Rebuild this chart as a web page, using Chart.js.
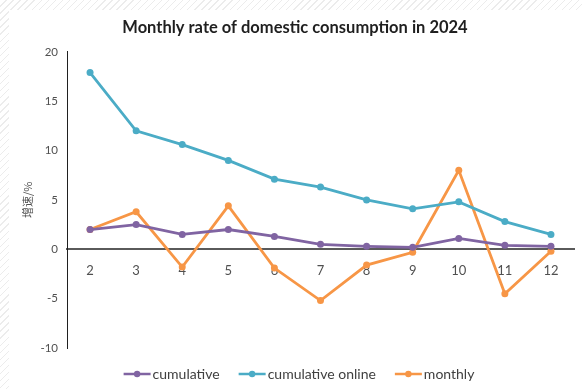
<!DOCTYPE html>
<html>
<head>
<meta charset="utf-8">
<script src="https://cdn.jsdelivr.net/npm/chart.js@4"></script>
<style>
  html, body { margin: 0; padding: 0; }
  #wrap {
    position: relative; width: 582px; height: 389px; overflow: hidden;
    background: repeating-linear-gradient(135deg, #ffffff 0px, #ffffff 4px, #ececec 4px, #ececec 5px);
  }
  #panel { position: absolute; left: 9px; top: 10px; right: 0; bottom: 0; background: #ffffff; }
  #c { position: absolute; left: 0; top: 0; }
</style>
</head>
<body>
<div id="wrap">
  <div id="panel"></div>
  <canvas id="c" width="582" height="389"></canvas>
</div>
<script>
// Months of 2024 (Feb–Dec)
const months = ['2', '3', '4', '5', '6', '7', '8', '9', '10', '11', '12'];

// Growth rates, %
const cumulative       = [2.0, 2.5, 1.5, 2.0, 1.3, 0.5, 0.3, 0.2, 1.1, 0.4, 0.3];
const cumulativeOnline = [17.9, 12.0, 10.6, 9.0, 7.1, 6.3, 5.0, 4.1, 4.8, 2.8, 1.5];
const monthly          = [2.0, 3.8, -1.8, 4.4, -1.9, -5.2, -1.6, -0.3, 8.0, -4.5, -0.2];

const seriesNames  = ['cumulative', 'cumulative online', 'monthly'];
const seriesColors = ['#8064A2', '#4BACC6', '#F79646'];

const FONT = 'Lato, "Open Sans", "Liberation Sans", sans-serif';

// Bottom legend: each entry is a short line with a dot, followed by the series name
const bottomLegend = {
  id: 'bottomLegend',
  afterDraw(chart) {
    const ctx = chart.ctx;
    const markerW = 27, textGap = 2, itemGap = 19, cy = 374;
    ctx.save();
    ctx.font = '14px ' + FONT;
    const items = chart.data.datasets.map(ds => ({
      ds, w: markerW + textGap + ctx.measureText(ds.label).width
    }));
    const total = items.reduce((s, it) => s + it.w, 0) + itemGap * (items.length - 1);
    let x = 299 - total / 2;
    items.forEach(({ ds }, i) => {
      ctx.strokeStyle = ds.borderColor;
      ctx.lineWidth = 2.5;
      ctx.beginPath(); ctx.moveTo(x, cy); ctx.lineTo(x + markerW, cy); ctx.stroke();
      ctx.fillStyle = ds.borderColor;
      ctx.beginPath(); ctx.arc(x + markerW / 2, cy, 3.2, 0, Math.PI * 2); ctx.fill();
      ctx.fillStyle = '#404040';
      ctx.textBaseline = 'middle';
      ctx.textAlign = 'left';
      ctx.fillText(ds.label, x + markerW + textGap, cy);
      x += items[i].w + itemGap;
    });
    ctx.restore();
  }
};

const seriesData = [cumulative, cumulativeOnline, monthly];
const datasets = seriesNames.map((name, i) => ({
  label: name,
  data: seriesData[i],
  borderColor: seriesColors[i],
  backgroundColor: seriesColors[i],
  borderWidth: 2.8,
  pointRadius: 3.5,
  pointHoverRadius: 3.5,
  pointBorderWidth: 0,
  tension: 0
}));

new Chart(document.getElementById('c'), {
  type: 'line',
  data: { labels: months, datasets },
  plugins: [bottomLegend],
  options: {
    responsive: false,
    animation: false,
    layout: { padding: { left: 8, right: 0, top: 0, bottom: 41 } },
    plugins: {
      tooltip: { enabled: false },
      legend: { display: false },
      title: {
        display: true,
        text: 'Monthly rate of domestic consumption in 2024',
        color: '#1f1f1f',
        font: { family: FONT, size: 16.5, weight: 'bold' },
        padding: { top: 18, bottom: 14 }
      }
    },
    scales: {
      x: {
        position: { y: 0 },
        offset: true,
        grid: { display: false, drawTicks: false },
        border: { display: true, color: '#5a5a5a', width: 2 },
        ticks: { color: '#505050', font: { family: FONT, size: 13 }, padding: 14 }
      },
      y: {
        min: -10,
        max: 20,
        ticks: { stepSize: 5, color: '#505050', font: { family: FONT, size: 11.5 }, padding: 9 },
        grid: { display: false, drawTicks: false },
        border: { display: true, color: '#202020', width: 1 },
        title: {
          display: true,
          text: '增速/%',
          color: '#505050',
          font: { family: '"Noto Sans CJK SC", sans-serif', size: 11 },
          padding: { top: 13, bottom: 0 }
        },
        afterFit(scale) { scale.width = 59; }
      },
      // empty right margin beside the plot
      yRight: {
        position: 'right',
        min: -10,
        max: 20,
        grid: { display: false, drawTicks: false },
        border: { display: false },
        ticks: { display: false },
        afterFit(scale) { scale.width = 8; }
      }
    }
  }
});
</script>
</body>
</html>
